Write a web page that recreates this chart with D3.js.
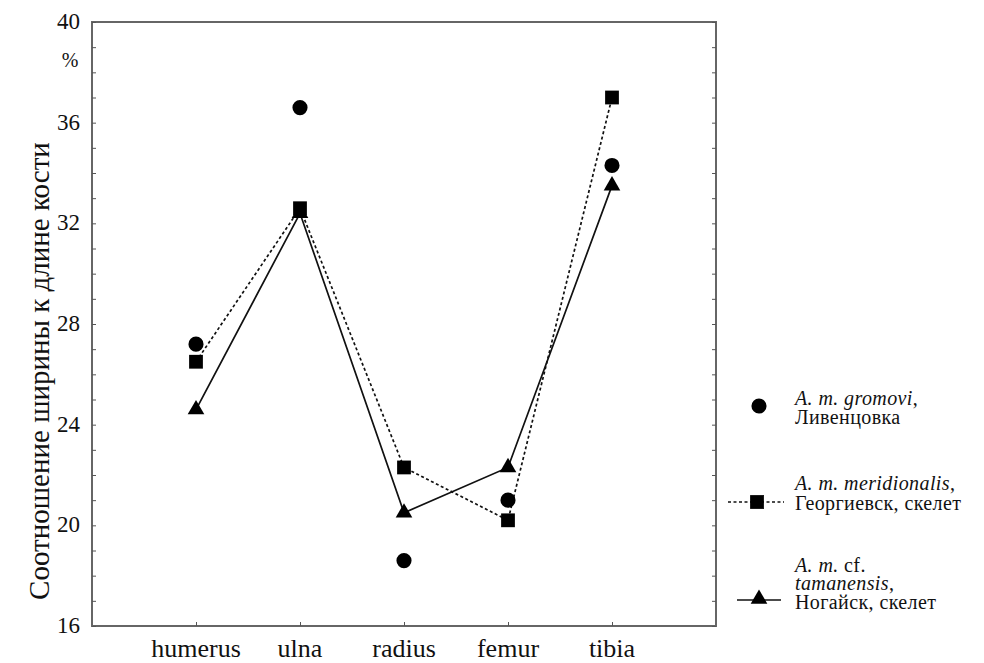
<!DOCTYPE html>
<html>
<head>
<meta charset="utf-8">
<script src="https://cdn.jsdelivr.net/npm/d3@7"></script>
<style>
  body { margin: 0; background: #fff; }
  text { font-family: "Liberation Serif", "DejaVu Serif", serif; fill: #111; }
</style>
</head>
<body>
<script>
// bones along the x axis
var bones = ["humerus", "ulna", "radius", "femur", "tibia"];

// ratio of width to bone length, %
var gromovi = [27.2, 36.6, 18.6, 21.0, 34.3];
var meridionalis = [26.5, 32.6, 22.3, 20.2, 37.0];
var tamanensis = [24.6, 32.4, 20.5, 22.3, 33.5];

var yTicks = [16, 20, 24, 28, 32, 36, 40];

var width = 984, height = 663;
var plotLeft = 92, plotRight = 716, plotTop = 22, plotBottom = 626;

var svg = d3.select("body").append("svg")
    .attr("width", width)
    .attr("height", height);

var x = d3.scaleLinear().domain([0, bones.length + 1]).range([plotLeft, plotRight]);
var y = d3.scaleLinear().domain([16, 40]).range([plotBottom, plotTop]);

//frame
svg.append("rect")
    .attr("x", plotLeft).attr("y", plotTop)
    .attr("width", plotRight - plotLeft).attr("height", plotBottom - plotTop)
    .attr("fill", "none").attr("stroke", "#666").attr("stroke-width", 2);

//left and right ticks, pointing inward
var minor = d3.range(16, 41, 1);
svg.append("g")
    .attr("transform", "translate(" + plotLeft + ",0)")
    .call(d3.axisRight(y).tickValues(minor).tickSize(4).tickFormat(""))
    .call(function (g) { g.select(".domain").remove(); })
    .selectAll("line").attr("stroke", "#555");
svg.append("g")
    .attr("transform", "translate(" + plotRight + ",0)")
    .call(d3.axisLeft(y).tickValues(minor).tickSize(4).tickFormat(""))
    .call(function (g) { g.select(".domain").remove(); })
    .selectAll("line").attr("stroke", "#555");

svg.selectAll(".ylab")
    .data(yTicks)
    .enter().append("text")
    .attr("class", "ylab")
    .attr("x", 80)
    .attr("y", function (d) { return y(d) + 7; })
    .attr("text-anchor", "end")
    .style("font-size", "23px")
    .text(function (d) { return d; });

svg.append("text")
    .attr("x", 70).attr("y", 67)
    .attr("text-anchor", "middle")
    .style("font-size", "20px")
    .text("%");

//y title
svg.append("text")
    .attr("transform", "translate(49,371) rotate(-90)")
    .attr("text-anchor", "middle")
    .style("font-size", "29px")
    .text("Соотношение ширины к длине кости");

//bottom ticks and labels
svg.append("g")
    .attr("transform", "translate(0," + plotBottom + ")")
    .call(d3.axisTop(x).tickValues(d3.range(1, bones.length + 1)).tickSize(4).tickFormat(""))
    .call(function (g) { g.select(".domain").remove(); })
    .selectAll("line").attr("stroke", "#555");

svg.selectAll(".xlab")
    .data(bones)
    .enter().append("text")
    .attr("class", "xlab")
    .attr("x", function (d, i) { return x(i + 1); })
    .attr("y", 657)
    .attr("text-anchor", "middle")
    .style("font-size", "26px")
    .text(function (d) { return d; });

//lines
var line = d3.line()
    .x(function (d, i) { return x(i + 1); })
    .y(function (d) { return y(d); });

svg.append("path")
    .attr("d", line(meridionalis))
    .attr("fill", "none").attr("stroke", "#111")
    .attr("stroke-width", 1.7).attr("stroke-dasharray", "3,2.5");
svg.append("path")
    .attr("d", line(tamanensis))
    .attr("fill", "none").attr("stroke", "#111")
    .attr("stroke-width", 1.7);

//markers
var circleSym = d3.symbol().type(d3.symbolCircle).size(180);
var squareSym = d3.symbol().type(d3.symbolSquare).size(190);
var triSym = d3.symbol().type(d3.symbolTriangle).size(120);

function drawMarks(vals, sym) {
    svg.append("g").selectAll("path")
        .data(vals)
        .enter().append("path")
        .attr("d", sym)
        .attr("transform", function (d, i) {
            return "translate(" + x(i + 1) + "," + y(d) + ")";
        })
        .attr("fill", "#000");
}
drawMarks(gromovi, circleSym);
drawMarks(meridionalis, squareSym);
drawMarks(tamanensis, triSym);

//legend
var lg = svg.append("g").style("font-size", "20px").style("letter-spacing", "0.4px");
lg.append("path").attr("d", circleSym).attr("transform", "translate(759,406)");
var t1 = lg.append("text").attr("x", 795).attr("y", 405);
t1.append("tspan").style("font-style", "italic").text("A. m. gromovi");
t1.append("tspan").text(",");
lg.append("text").attr("x", 795).attr("y", 424).text("Ливенцовка");

lg.append("line").attr("x1", 728).attr("x2", 784).attr("y1", 502).attr("y2", 502)
    .attr("stroke", "#111").attr("stroke-width", 1.7).attr("stroke-dasharray", "3,2.5");
lg.append("path").attr("d", squareSym).attr("transform", "translate(757,502)");
var t2 = lg.append("text").attr("x", 795).attr("y", 490);
t2.append("tspan").style("font-style", "italic").text("A. m. meridionalis");
t2.append("tspan").text(",");
lg.append("text").attr("x", 795).attr("y", 510).text("Георгиевск, скелет");

lg.append("line").attr("x1", 737).attr("x2", 781).attr("y1", 600).attr("y2", 600)
    .attr("stroke", "#111").attr("stroke-width", 1.7);
lg.append("path").attr("d", triSym).attr("transform", "translate(759,599)");
var t3 = lg.append("text").attr("x", 795).attr("y", 572);
t3.append("tspan").style("font-style", "italic").text("A. m.");
t3.append("tspan").text(" cf.");
var t4 = lg.append("text").attr("x", 795).attr("y", 590);
t4.append("tspan").style("font-style", "italic").text("tamanensis");
t4.append("tspan").text(",");
lg.append("text").attr("x", 795).attr("y", 609).text("Ногайск, скелет");
</script>
</body>
</html>
